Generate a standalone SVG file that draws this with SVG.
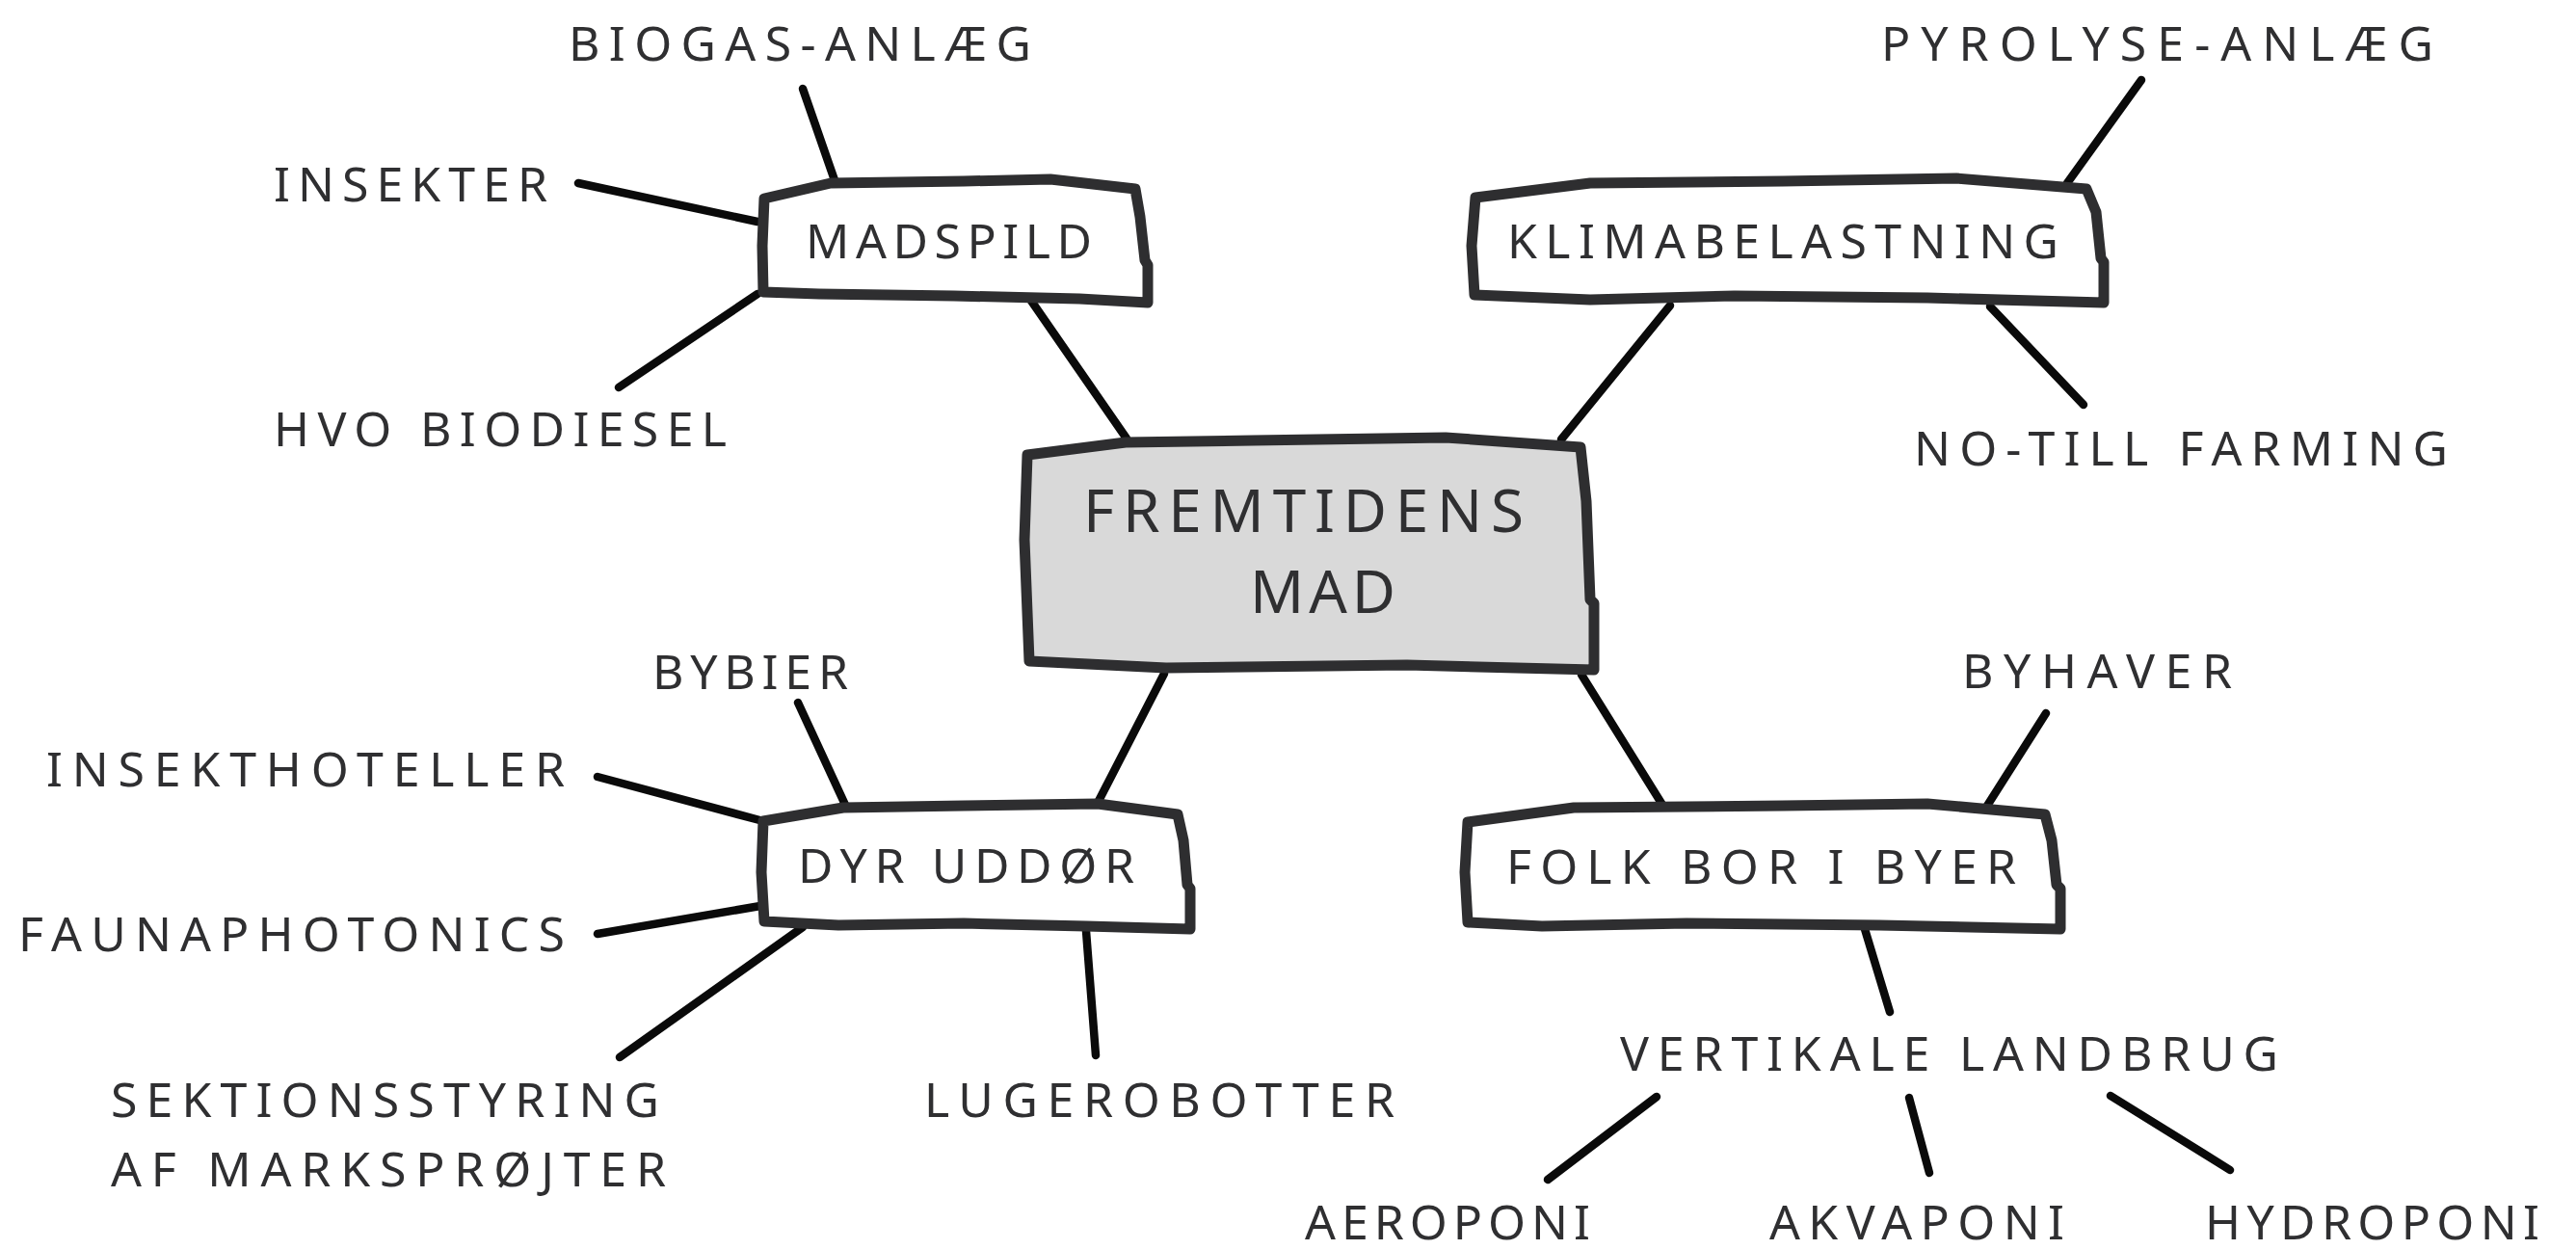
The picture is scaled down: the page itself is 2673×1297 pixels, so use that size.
<svg xmlns="http://www.w3.org/2000/svg" width="2673" height="1297" viewBox="0 0 2673 1297">
<style>
.bg{fill:#ffffff}
.conn line{stroke:#0a0a0a;stroke-width:8.5;stroke-linecap:round;fill:none}
.box{fill:#ffffff;stroke:#2e2e30;stroke-width:11;stroke-linejoin:round}
.core{fill:#d9d9d9;stroke:#2e2e30;stroke-width:11;stroke-linejoin:round}
text{font-family:"Noto Sans","DejaVu Sans",sans-serif;fill:#2f2f31;font-size:50px}
.big{font-size:62px}
</style>
<rect class="bg" x="0" y="0" width="2673" height="1297"/>
<g id="connectors" class="conn">
<line x1="1070" y1="312" x2="1169" y2="455"/>
<line x1="1733" y1="317" x2="1620" y2="456"/>
<line x1="1208" y1="699" x2="1139" y2="833"/>
<line x1="1641" y1="700" x2="1725" y2="835"/>
<line x1="833" y1="92" x2="866" y2="187"/>
<line x1="600" y1="190" x2="786" y2="230"/>
<line x1="642" y1="402" x2="786" y2="305"/>
<line x1="2222" y1="83" x2="2145" y2="190"/>
<line x1="2065" y1="318" x2="2162" y2="420"/>
<line x1="828" y1="729" x2="877" y2="835"/>
<line x1="620" y1="806" x2="792" y2="852"/>
<line x1="620" y1="969" x2="789" y2="940"/>
<line x1="643" y1="1097" x2="833" y2="962"/>
<line x1="1137" y1="1095" x2="1127" y2="966"/>
<line x1="2123" y1="740" x2="2062" y2="836"/>
<line x1="1935" y1="964" x2="1961" y2="1050"/>
<line x1="1719" y1="1138" x2="1606" y2="1224"/>
<line x1="1981" y1="1139" x2="2002" y2="1217"/>
<line x1="2190" y1="1137" x2="2314" y2="1214"/>
</g>
<g id="fremtidens-mad">
<path class="core" d="M1066,472 L1168,459 L1300,457 L1500,454 L1640,464 L1646,520 L1650,622 L1654,626 L1654,695 L1460,690 L1210,693 L1068,686 L1063,560 Z"/>
<text class="big" x="1124" y="552" textLength="457" lengthAdjust="spacing">FREMTIDENS</text>
<text class="big" x="1297" y="636" textLength="151" lengthAdjust="spacing">MAD</text>
</g>
<g id="madspild">
<path class="box" d="M793,206 L862,190 L1000,188 L1090,186 L1178,196 L1183,225 L1188,270 L1191,275 L1191,314 L1120,310 L990,307 L850,305 L792,303 L791,255 Z"/>
<text x="836" y="268" textLength="297" lengthAdjust="spacing">MADSPILD</text>
</g>
<g id="klimabelastning">
<path class="box" d="M1531,205 L1650,190 L1850,188 L2030,185 L2165,196 L2175,220 L2180,268 L2183,272 L2183,314 L2000,309 L1800,307 L1650,311 L1530,306 L1527,255 Z"/>
<text x="1564" y="268" textLength="572" lengthAdjust="spacing">KLIMABELASTNING</text>
</g>
<g id="dyr-uddoer">
<path class="box" d="M792,852 L875,838 L1000,836 L1139,834 L1222,845 L1228,872 L1232,918 L1235,922 L1235,964 L1127,961 L1000,958 L870,960 L793,956 L790,905 Z"/>
<text x="828" y="916" textLength="349" lengthAdjust="spacing">DYR UDDØR</text>
</g>
<g id="folk-bor-i-byer">
<path class="box" d="M1523,853 L1633,838 L1850,836 L2000,834 L2122,845 L2129,872 L2134,918 L2138,922 L2138,964 L1950,960 L1750,958 L1600,961 L1523,957 L1520,905 Z"/>
<text x="1563" y="917" textLength="529" lengthAdjust="spacing">FOLK BOR I BYER</text>
</g>
<g id="biogas"><text x="590" y="63" textLength="480" lengthAdjust="spacing">BIOGAS-ANLÆG</text></g>
<g id="insekter"><text x="284" y="209" textLength="284" lengthAdjust="spacing">INSEKTER</text></g>
<g id="hvo"><text x="284" y="463" textLength="470" lengthAdjust="spacing">HVO BIODIESEL</text></g>
<g id="pyrolyse"><text x="1952" y="63" textLength="573" lengthAdjust="spacing">PYROLYSE-ANLÆG</text></g>
<g id="no-till"><text x="1986" y="483" textLength="554" lengthAdjust="spacing">NO-TILL FARMING</text></g>
<g id="bybier"><text x="677" y="715" textLength="203" lengthAdjust="spacing">BYBIER</text></g>
<g id="insekthoteller"><text x="48" y="816" textLength="538" lengthAdjust="spacing">INSEKTHOTELLER</text></g>
<g id="faunaphotonics"><text x="19" y="987" textLength="567" lengthAdjust="spacing">FAUNAPHOTONICS</text></g>
<g id="sektionsstyring">
<text x="115" y="1159" textLength="569" lengthAdjust="spacing">SEKTIONSSTYRING</text>
<text x="115" y="1231" textLength="576" lengthAdjust="spacing">AF MARKSPRØJTER</text>
</g>
<g id="lugerobotter"><text x="959" y="1159" textLength="488" lengthAdjust="spacing">LUGEROBOTTER</text></g>
<g id="byhaver"><text x="2036" y="714" textLength="280" lengthAdjust="spacing">BYHAVER</text></g>
<g id="vertikale"><text x="1681" y="1111" textLength="683" lengthAdjust="spacing">VERTIKALE LANDBRUG</text></g>
<g id="aeroponi"><text x="1354" y="1286" textLength="296" lengthAdjust="spacing">AEROPONI</text></g>
<g id="akvaponi"><text x="1836" y="1286" textLength="306" lengthAdjust="spacing">AKVAPONI</text></g>
<g id="hydroponi"><text x="2288" y="1286" textLength="347" lengthAdjust="spacing">HYDROPONI</text></g>
</svg>
